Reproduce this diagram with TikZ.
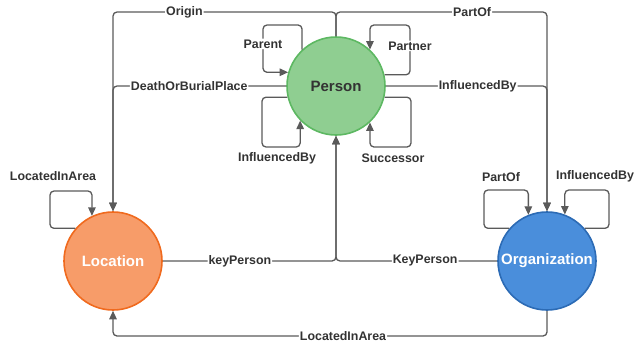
\documentclass[tikz,border=0pt]{standalone}
\usepackage{fontspec}
\setmainfont{Liberation Sans}
\usetikzlibrary{arrows.meta}
\definecolor{linegray}{HTML}{5A5A5A}
\definecolor{textgray}{HTML}{333333}
\definecolor{personfill}{HTML}{8FCE91}
\definecolor{persondraw}{HTML}{5DB862}
\definecolor{locfill}{HTML}{F79C69}
\definecolor{locdraw}{HTML}{F06A1E}
\definecolor{orgfill}{HTML}{4A8EDB}
\definecolor{orgdraw}{HTML}{2C6BB5}
\begin{document}
\begin{tikzpicture}[x=1pt,y=-1pt,
  entity/.style={circle, minimum size=98pt, inner sep=0pt, line width=1.6pt,
    font=\bfseries\fontsize{15}{17}\selectfont},
  conn/.style={draw=linegray, line width=1.3pt, rounded corners=4pt,
    -{Triangle[length=8.5pt,width=7.5pt]}},
  lbl/.style={fill=white, inner sep=1pt, text=textgray,
    font=\bfseries\fontsize{12.4}{14}\selectfont},
  tag/.style={inner sep=1pt, text=textgray,
    font=\bfseries\fontsize{12.4}{14}\selectfont}]
\useasboundingbox (0,0) rectangle (635,343);

% entities
\node[entity, fill=personfill, draw=persondraw, text=textgray] (P) at (336,86) {Person};
\node[entity, fill=locfill, draw=locdraw, text=white] (L) at (113,261) {Location};
\node[entity, fill=orgfill, draw=orgdraw, text=white] (O) at (547,261) {Organization};

% relations between entities
\draw[conn] (P.north) -- (P.north |- 0,12)
  -- node[lbl, pos=0.68] {Origin} (L.north |- 0,12) -- (L.north);
\draw[conn] (P.north) -- (P.north |- 0,12)
  -- node[lbl, pos=0.645] {PartOf} (O.north |- 0,12) -- (O.north);
\draw[conn] (P.west) -- node[lbl, pos=0.56] {DeathOrBurialPlace} (L.north |- P.west) -- (L.north);
\draw[conn] (P.east) -- node[lbl, pos=0.57] {InfluencedBy} (O.north |- P.east) -- (O.north);
\draw[conn] (L.east) -- node[lbl, pos=0.445] {keyPerson} (P.south |- L.east) -- (P.south);
\draw[conn] (O.west) -- node[lbl, pos=0.447] {KeyPerson} (P.south |- O.west) -- (P.south);
\draw[conn] (O.south) -- (O.south |- 0,336)
  -- node[lbl, pos=0.47] {LocatedInArea} (L.south |- 0,336) -- (L.south);

% self relations of Person
\draw[conn] (P.133) -- (P.133 |- 0,25) -- (263,25)
  -- node[lbl, pos=0.4] {Parent} (263,0 |- P.164) -- (P.164);
\draw[conn] (P.13) -- (410,0 |- P.13)
  -- node[lbl, pos=0.58] {Partner} (410,25) -- (P.47 |- 0,25) -- (P.47);
\draw[conn] (P.193) -- (262,0 |- P.193) -- (262,147) -- (P.224 |- 0,147) -- (P.224);
\node[tag] (pinf) at (277,158) {InfluencedBy};
\draw[conn] (P.347) -- (411,0 |- P.347) -- (411,147) -- (P.313 |- 0,147) -- (P.313);
\node[tag] (psucc) at (393,158) {Successor};

% self relations of Location and Organization
\draw[conn] (L.139) -- (50,0 |- L.139) -- (50,191) -- (L.115 |- 0,191) -- (L.115);
\node[tag] (lloc) at (53,176) {LocatedInArea};
\draw[conn] (O.139) -- (484,0 |- O.139) -- (484,190) -- (O.112 |- 0,190) -- (O.112);
\node[tag] (opart) at (501,177) {PartOf};
\draw[conn] (O.41) -- (609,0 |- O.41) -- (609,190) -- (O.69 |- 0,190) -- (O.69);
\node[tag] (oinf) at (595,176) {InfluencedBy};
\end{tikzpicture}
\end{document}
